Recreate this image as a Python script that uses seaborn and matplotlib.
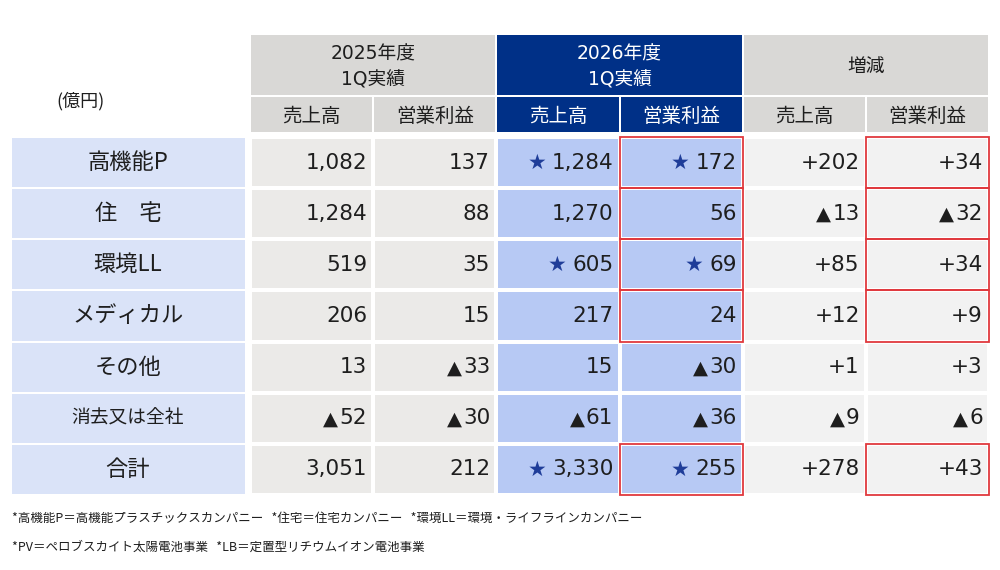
import numpy as np
import matplotlib
matplotlib.use("Agg")
import matplotlib.pyplot as plt
from matplotlib.colors import ListedColormap
from matplotlib.patches import Rectangle
import seaborn as sns

# ---- data ----
segments = ["高機能P", "住　宅", "環境LL", "メディカル", "その他", "消去又は全社", "合計"]
sales_2025 = [1082, 1284, 519, 206, 13, -52, 3051]
op_2025 = [137, 88, 35, 15, -33, -30, 212]
sales_2026 = [1284, 1270, 605, 217, 15, -61, 3330]
op_2026 = [172, 56, 69, 24, -30, -36, 255]
sales_diff = [202, -13, 85, 12, 1, -9, 278]
op_diff = [34, -32, 34, 9, 3, -6, 43]
star_2026 = [True, False, True, False, False, False, True]
red_box = [True, True, True, True, False, False, True]

group_labels = [("2025年度", "1Q実績"), ("2026年度", "1Q実績"), ("増減",)]
sub_labels = ["売上高", "営業利益"]
unit_label = "(億円)"
footnotes = [
    "*高機能P＝高機能プラスチックスカンパニー   *住宅＝住宅カンパニー   *環境LL＝環境・ライフラインカンパニー",
    "*PV＝ペロブスカイト太陽電池事業   *LB＝定置型リチウムイオン電池事業",
]

# ---- style ----
sns.set_theme(style="white")
JP_FONT = ["Noto Sans CJK JP", "DejaVu Sans"]
NUM_FONT = ["DejaVu Sans", "Noto Sans CJK JP"]
plt.rcParams["font.family"] = JP_FONT

LABEL_BG = "#dae3f8"
OLD_BG = "#ebeae8"
NEW_BG = "#b7c9f4"
DIFF_BG = "#f2f2f2"
HEAD_GRAY = "#d9d8d6"
NAVY = "#003087"
RED = "#e0393e"
STAR = "#1f3d99"
TEXT = "#1e1e1e"

# layout in pixels (figure is 1000 x 570)
BODY_L, BODY_R, BODY_T, BODY_B = 250, 989, 137, 495
n_rows, n_cols = len(segments), 6
col_w = (BODY_R - BODY_L) / n_cols
row_h = (BODY_B - BODY_T) / n_rows


def fmt(v, sign=False):
    s = f"{abs(v):,}"
    return ("+" + s) if (sign and v >= 0) else s


fig = plt.figure(figsize=(10, 5.7), dpi=100)
ax = fig.add_axes([0, 0, 1, 1])
ax.set_xlim(0, 1000)
ax.set_ylim(570, 0)
ax.axis("off")

# header row 1 (groups)
for g, lines in enumerate(group_labels):
    x0 = BODY_L + 2 * g * col_w + 1
    bg = NAVY if g == 1 else HEAD_GRAY
    fg = "white" if g == 1 else TEXT
    ax.add_patch(Rectangle((x0, 35), 2 * col_w - 2, 60, color=bg, lw=0))
    ys = [54, 80] if len(lines) == 2 else [66]
    for y, lab in zip(ys, lines):
        ax.text(x0 + col_w - 1, y, lab, ha="center", va="center", fontsize=13.5,
                color=fg, family=NUM_FONT)

# header row 2 (sub columns)
for j in range(n_cols):
    x0 = BODY_L + j * col_w + 1
    new = j in (2, 3)
    ax.add_patch(Rectangle((x0, 97), col_w - 2, 35,
                           color=NAVY if new else HEAD_GRAY, lw=0))
    ax.text(x0 + col_w / 2 - 1, 116, sub_labels[j % 2], ha="center", va="center",
            fontsize=14, color="white" if new else TEXT)

ax.text(80, 101, unit_label, ha="center", va="center", fontsize=13, color=TEXT)

# row labels
for i, seg in enumerate(segments):
    y0 = BODY_T + i * row_h + 1
    ax.add_patch(Rectangle((12, y0), 233, row_h - 2, color=LABEL_BG, lw=0))
    ax.text(128, y0 + row_h / 2 - 1, seg, ha="center", va="center",
            fontsize=13.5 if len(seg) > 5 else 16, color=TEXT)

for k, line in enumerate(footnotes):
    ax.text(12, 518 + k * 29, line, ha="left", va="center", fontsize=9, color=TEXT)

# body via seaborn heatmap
bx = fig.add_axes([BODY_L / 1000, 1 - BODY_B / 570,
                   (BODY_R - BODY_L) / 1000, (BODY_B - BODY_T) / 570])
cat = np.tile([0, 0, 1, 1, 2, 2], (n_rows, 1))
sns.heatmap(cat, ax=bx, cmap=ListedColormap([OLD_BG, NEW_BG, DIFF_BG]),
            vmin=-0.5, vmax=2.5, cbar=False, linewidths=1.6, linecolor="white",
            xticklabels=False, yticklabels=False)
bx.axis("off")

columns = [sales_2025, op_2025, sales_2026, op_2026, sales_diff, op_diff]
for j, col in enumerate(columns):
    for i, v in enumerate(col):
        t = bx.text(j + 1 - 0.05, i + 0.5, fmt(v, sign=j >= 4), ha="right",
                    va="center", fontsize=15.5, color=TEXT, family=NUM_FONT)
        if v < 0:
            bx.annotate("▲", xy=(0, 0.5), xycoords=t, xytext=(-0.8, -0.4),
                        textcoords="offset points", ha="right", va="center",
                        fontsize=14, color=TEXT, family=NUM_FONT)
        if j in (2, 3) and star_2026[i]:
            bx.annotate("★", xy=(0, 0.5), xycoords=t, xytext=(-4, 0),
                        textcoords="offset points", ha="right", va="center",
                        fontsize=15, color=STAR, family=NUM_FONT)

for i, flag in enumerate(red_box):
    if flag:
        for j in (3, 5):
            bx.add_patch(Rectangle((j, i), 1, 1, fill=False, edgecolor=RED,
                                   lw=1.3, clip_on=False, zorder=5))

fig.savefig("out.png", dpi=100)
